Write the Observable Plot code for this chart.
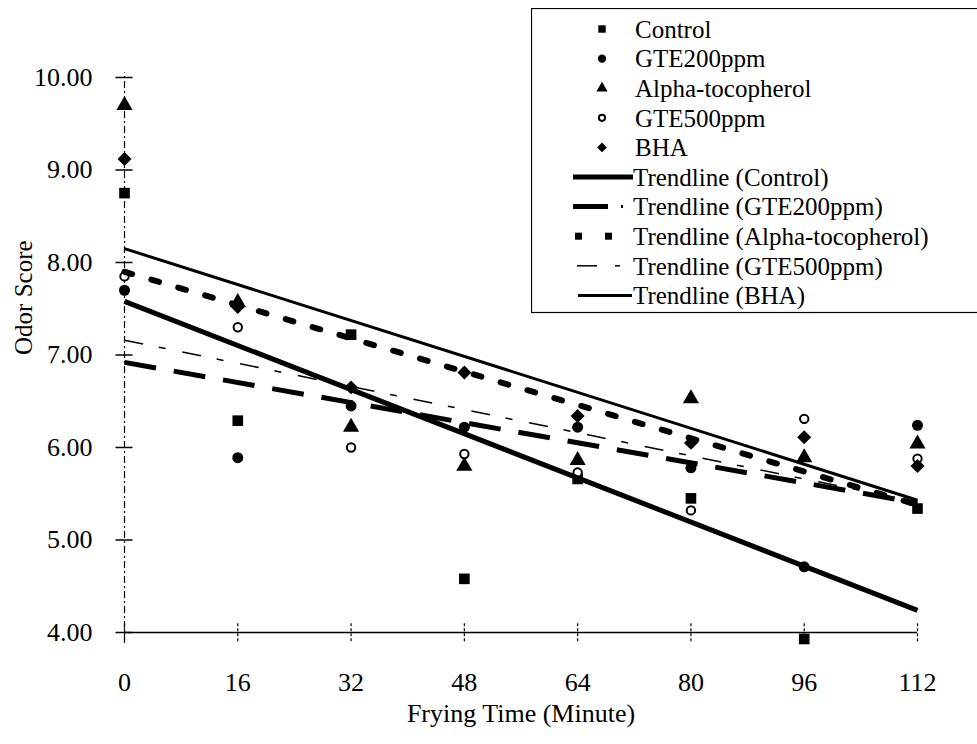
<!DOCTYPE html>
<html><head><meta charset="utf-8">
<script src="https://cdn.jsdelivr.net/npm/d3@7"></script>
<script src="https://cdn.jsdelivr.net/npm/@observablehq/plot@0.6"></script>
<style>
body{margin:0;background:#fff;}
#wrap{position:relative;width:977px;height:744px;font-family:"Liberation Serif","Times New Roman",serif;overflow:hidden;}
#legend{position:absolute;left:531px;top:8px;}
</style></head><body><div id="wrap"></div>
<script>
// ---- data ----
const times = [0, 16, 32, 48, 64, 80, 96, 112];
const control   = [8.75, 6.29, 7.22, 4.58, 5.66, 5.45, 3.93, 5.34];
const gte200    = [7.70, 5.89, 6.45, 6.22, 6.22, 5.78, 4.71, 6.24];
const alphaToco = [9.70, 7.57, 6.22, 5.80, 5.86, 6.53, 5.89, 6.04];
const gte500    = [7.85, 7.30, 6.00, 5.93, 5.73, 5.32, 6.31, 5.88];
const bha       = [9.12, 7.52, 6.65, 6.81, 6.34, 6.05, 6.11, 5.80];
const seriesNames = ["Control", "GTE200ppm", "Alpha-tocopherol", "GTE500ppm", "BHA"];
const trendNames = ["Trendline (Control)", "Trendline (GTE200ppm)", "Trendline (Alpha-tocopherol)", "Trendline (GTE500ppm)", "Trendline (BHA)"];
const trendX = [0, 112];
const trendStart = [7.58, 6.92, 7.90, 7.16, 8.15];
const trendEnd   = [4.24, 5.40, 5.38, 5.41, 5.43];
const xTicks = [0, 16, 32, 48, 64, 80, 96, 112];
const yTicks = [4, 5, 6, 7, 8, 9, 10];

// ---- styles ----
const seriesValues = [control, gte200, alphaToco, gte500, bha];
const symbols = ["square", "circle", "triangle", "circle", "diamond2"];
const fills = ["#000", "#000", "#000", "#fff", "#000"];
const radii = [6, 5.5, 6, 4.2, 6.3];
const dashes = [null, "32,18", "8,20", "19,16,7,17", null];
const widths = [5, 5, 6, 1.5, 3];
const caps = ["butt", "butt", "round", "butt", "butt"];

const points = seriesValues.flatMap((vals, i) => vals.map((v, j) => ({series: seriesNames[i], x: times[j], y: v, i})));
const trends = seriesNames.flatMap((s, i) => trendX.map((x, k) => ({series: s, x, y: k === 0 ? trendStart[i] : trendEnd[i], i})));

const marks = [
  Plot.ruleX([0], {y1: 3.88, y2: 10.05, stroke: "#000", strokeWidth: 1.2, strokeDasharray: "7,3,2,3"}),
  Plot.ruleY([4], {x1: 0, x2: 112, stroke: "#000", strokeWidth: 1.6}),
  Plot.ruleY(yTicks, {y: d => d, x1: -1.2, x2: 1.2, stroke: "#000", strokeWidth: 1.5}),
  Plot.ruleX(xTicks, {x: d => d, y1: 3.9, y2: 4.1, stroke: "#000", strokeWidth: 1.2, strokeDasharray: "3,2"}),
  Plot.axisX({ticks: xTicks, tickSize: 0, tickPadding: 40, label: null, fontSize: 26}),
  Plot.axisY({ticks: yTicks, tickFormat: d => d.toFixed(2), tickSize: 0, tickPadding: 32, label: null, fontSize: 26}),
  Plot.text(["Odor Score"], {text: d => d, frameAnchor: "left", rotate: -90, dx: -101, fontSize: 25}),
  Plot.text(["Frying Time (Minute)"], {text: d => d, frameAnchor: "bottom", dy: 89, fontSize: 26})
];
seriesNames.forEach((s, i) => {
  marks.push(Plot.dot(points.filter(d => d.i === i), {
    x: "x", y: "y", symbol: symbols[i], r: radii[i],
    fill: fills[i], stroke: i === 3 ? "#000" : "none", strokeWidth: i === 3 ? 2 : 0
  }));
});
seriesNames.forEach((s, i) => {
  marks.push(Plot.line(trends.filter(d => d.i === i), {
    x: "x", y: "y", stroke: "#000", strokeWidth: widths[i],
    strokeDasharray: dashes[i], strokeLinecap: caps[i]
  }));
});

const chart = Plot.plot({
  width: 977, height: 744,
  marginLeft: 124, marginRight: 60, marginTop: 77, marginBottom: 112,
  x: {domain: [0, 112]},
  y: {domain: [4, 10]},
  style: {fontFamily: "Liberation Serif, Times New Roman, serif", fontSize: "26px", color: "#000", background: "#fff", overflow: "visible"},
  marks
});
const wrap = document.getElementById("wrap");
wrap.appendChild(chart);

// ---- legend (overlay box, as in the reference) ----
const lg = d3.select(wrap).append("svg").attr("id", "legend").attr("width", 446).attr("height", 306);
lg.append("rect").attr("x", 0.5).attr("y", 0.5).attr("width", 460).attr("height", 304)
  .attr("fill", "#fff").attr("stroke", "#000").attr("stroke-width", 1.2);
const rowY = d3.range(10).map(k => 21 + 29.6 * k);
const legendSymbols = [d3.symbolSquare, d3.symbolCircle, d3.symbolTriangle, d3.symbolCircle, d3.symbolDiamond2];
const legendSizes = [55, 55, 55, 30, 60];
seriesNames.forEach((s, i) => {
  lg.append("path").attr("d", d3.symbol(legendSymbols[i], legendSizes[i])())
    .attr("transform", `translate(71,${rowY[i]})`)
    .attr("fill", fills[i]).attr("stroke", i === 3 ? "#000" : "none").attr("stroke-width", 2);
  lg.append("text").attr("x", 104).attr("y", rowY[i]).attr("dy", "0.35em")
    .attr("font-size", 25).attr("font-family", "Liberation Serif, serif").text(s);
});
const swatch = [
  [{x1: 42, x2: 102, w: 5}],
  [{x1: 42, x2: 77, w: 5}, {x1: 90, x2: 92, w: 3}],
  [{x1: 44, x2: 51, w: 7}, {x1: 74, x2: 81, w: 7}],
  [{x1: 46, x2: 66, w: 1.5}, {x1: 84, x2: 89, w: 1.5}],
  [{x1: 47, x2: 101, w: 3}]
];
trendNames.forEach((s, i) => {
  const y = rowY[5 + i];
  swatch[i].forEach(seg => {
    lg.append("line").attr("x1", seg.x1).attr("x2", seg.x2).attr("y1", y).attr("y2", y)
      .attr("stroke", "#000").attr("stroke-width", seg.w);
  });
  lg.append("text").attr("x", 102).attr("y", y).attr("dy", "0.35em")
    .attr("font-size", 25).attr("font-family", "Liberation Serif, serif").text(s);
});
</script>
</body></html>
